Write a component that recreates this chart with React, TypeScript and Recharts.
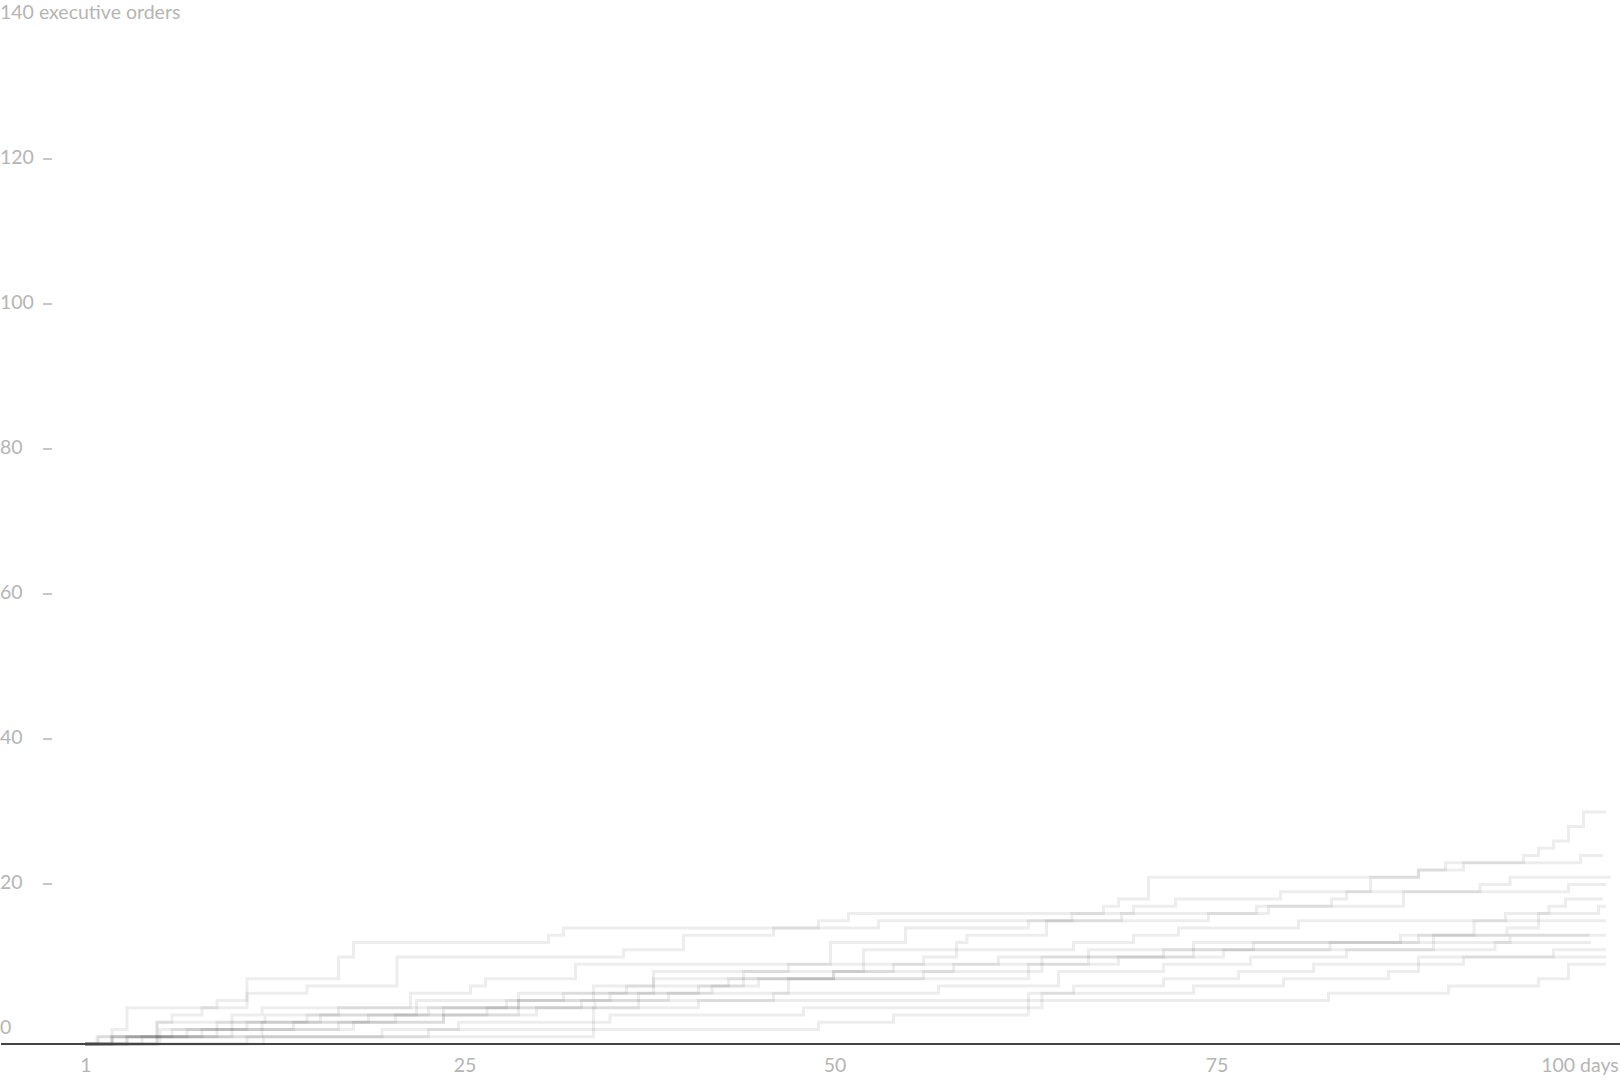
import { LineChart, Line, XAxis, YAxis } from "recharts"

// cumulative executive orders by day of the first 100 days, one list per past president
// each pair is [day, orders so far]
const line32 = [[0, 0], [1.8, 1], [4.8, 3], [5.8, 4], [7.8, 5], [10.8, 7], [14.8, 8], [20.8, 12], [35.9, 13], [39.9, 15], [45.9, 16], [52.9, 17], [65.8, 18], [69.9, 19], [72.7, 20], [79.7, 21], [85.7, 23], [88.9, 24], [90.7, 25], [95.9, 26], [96.9, 27], [97.9, 28], [98.9, 30], [99.9, 32], [101.4, 32]]
const line26 = [[0, 0], [0.8, 1], [1.8, 2], [2.8, 5], [8.8, 6], [10.8, 9], [16.9, 12], [17.9, 14], [30.9, 15], [31.9, 16], [48.9, 17], [50.9, 18], [67.9, 19], [68.9, 20], [70.9, 23], [88.9, 24], [91.9, 25], [99.7, 26], [101.2, 26]]
const line23 = [[0, 0], [1.8, 1], [4.8, 3], [9.8, 4], [11.8, 5], [21.7, 7], [25.7, 8], [26.7, 9], [32.7, 11], [49.7, 14], [54.7, 16], [62.9, 17], [69.1, 18], [78.1, 19], [87.9, 21], [93, 22], [95, 23], [101.7, 23]]
const line22 = [[0, 0], [2.8, 1], [5, 2], [8.8, 3], [12, 4], [16.9, 5], [22.1, 6], [28.9, 7], [33.9, 8], [37.9, 10], [46.9, 11], [55.9, 12], [58.1, 14], [58.8, 15], [64.1, 17], [74.9, 18], [78.9, 19], [83.1, 20], [84.1, 21], [98.9, 22], [101.4, 22]]
const line20 = [[0, 0], [3.8, 1], [7.8, 2], [11.8, 3], [15.7, 4], [22.9, 5], [28.9, 6], [33.9, 7], [37.9, 9], [49.9, 10], [57.9, 11], [68.9, 12], [75.9, 13], [83, 14], [87.7, 15], [92.6, 17], [94.7, 18], [97.6, 19], [98.7, 20], [101.2, 20]]
const line19 = [[0, 0], [4.8, 1], [8.8, 2], [13.9, 3], [20.7, 4], [23.9, 5], [28.1, 6], [35, 7], [40.9, 8], [43.9, 9], [49.9, 10], [53.9, 11], [60.9, 12], [66.9, 13], [89.9, 15], [94.8, 16], [96.9, 18], [100.9, 19], [101.4, 19]]
const line17 = [[0, 0], [2.8, 1], [6.8, 2], [10.8, 3], [18.9, 4], [26.8, 5], [36.9, 7], [41.8, 8], [42.9, 9], [43.9, 10], [51.9, 13], [65.9, 14], [69.9, 15], [72.9, 16], [80.9, 17], [101.4, 17]]
const line15a = [[0, 0], [5, 1], [11.8, 2], [17.9, 3], [23.9, 4], [30.1, 5], [33.1, 6], [38.9, 7], [46.9, 9], [55.9, 10], [63.8, 12], [71.9, 13], [77.9, 14], [95, 15], [101.4, 15]]
const line15b = [[0, 0], [1.8, 1], [5.8, 2], [9.8, 3], [14.8, 4], [22.1, 5], [28.9, 6], [31.9, 7], [36.1, 8], [44.9, 9], [62.9, 11], [66.9, 12], [73.9, 14], [88.9, 15], [100.3, 15]]
const line14 = [[0, 0], [4.8, 1], [9.8, 2], [16.9, 3], [23.9, 4], [28.9, 5], [34, 6], [45.9, 7], [56.9, 8], [64.9, 10], [71.9, 11], [77.7, 12], [84.1, 13], [94, 14], [100.4, 14]]
const line13 = [[0, 0], [0.9, 1], [33.9, 5], [40.9, 6], [62.9, 7], [65.9, 8], [71.9, 9], [76.9, 10], [81.9, 11], [88.9, 12], [97.9, 13], [101.4, 13]]
const line12 = [[0, 0], [10.8, 1], [19.8, 2], [24.9, 3], [35, 4], [47.9, 5], [63.8, 7], [73.9, 8], [79.9, 9], [86.9, 10], [88.9, 11], [91.9, 12], [101.4, 12]]
const line11 = [[0, 0], [11.9, 1], [22.9, 2], [48.9, 3], [53.9, 4], [62.9, 6], [82.9, 7], [90.9, 8], [96.9, 9], [98.9, 11], [101.4, 11]]

const allLines = [line32, line26, line23, line22, line20, line19, line17, line15a, line15b, line14, line13, line12, line11]

const yTicks = [0, 20, 40, 60, 80, 100, 120, 140]
const xTicks = [0, 25, 50, 75, 100]
const xTickLabels: Record<number, string> = { 0: "1", 25: "25", 50: "50", 75: "75", 100: "100 days" }
// small nudges so labels sit where the original puts them
const xTickNudge: Record<number, number> = { 0: 1, 25: 5, 50: 0, 75: 7, 100: -5 }

const FONT = "Lato, 'Noto Sans', sans-serif"
const GRAY = "#b5b5b5"

function YTick(props: any) {
  const { y, payload } = props
  const v = payload.value
  const label = v === 140 ? "140 executive orders" : String(v)
  return (
    <g>
      <text x={0} y={y - 10} fill={GRAY} fontSize={19.5} fontFamily={FONT} textAnchor="start">
        {label}
      </text>
      {v !== 0 && v !== 140 && (
        <line x1={43} x2={52} y1={y - 15} y2={y - 15} stroke={GRAY} strokeWidth={1.5} />
      )}
    </g>
  )
}

function XTick(props: any) {
  const { x, y, payload } = props
  const v = payload.value
  return (
    <text
      x={x + (xTickNudge[v] || 0)}
      y={y + 22}
      fill={GRAY}
      fontSize={19.5}
      fontFamily={FONT}
      textAnchor="middle"
    >
      {xTickLabels[v]}
    </text>
  )
}

export default function App() {
  return (
    <div style={{ position: "absolute", left: 0, top: 0, width: 1620, height: 1080, background: "#fff" }}>
      <LineChart width={1620} height={1080} margin={{ top: 29, right: 0, bottom: 0, left: 0 }}>
        <XAxis
          type="number"
          dataKey="day"
          domain={[-84 / 15, 1535 / 15]}
          ticks={xTicks}
          tick={<XTick />}
          tickLine={false}
          tickMargin={0}
          height={36}
          axisLine={{ stroke: "#444", strokeWidth: 2 }}
          allowDataOverflow
        />
        <YAxis
          type="number"
          domain={[0, 140]}
          ticks={yTicks}
          width={1}
          tick={<YTick />}
          tickLine={false}
          axisLine={false}
          interval={0}
        />
        {allLines.map((pts, i) => (
          <Line
            key={i}
            data={pts.map(([day, count]) => ({ day, count }))}
            dataKey="count"
            type="stepAfter"
            stroke="#000"
            strokeOpacity={0.07}
            strokeWidth={3}
            dot={false}
            activeDot={false}
            isAnimationActive={false}
          />
        ))}
      </LineChart>
    </div>
  )
}
